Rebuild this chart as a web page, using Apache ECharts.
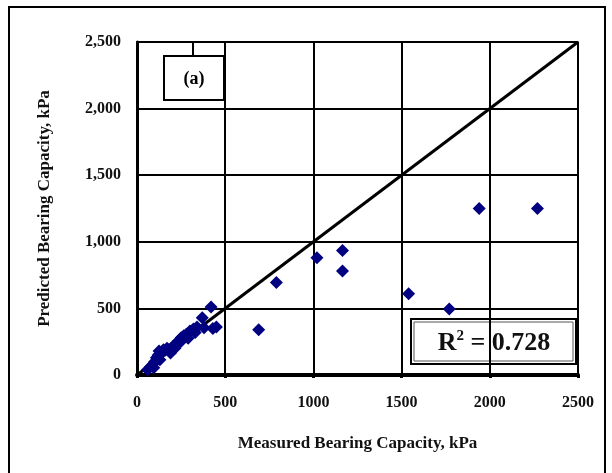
<!DOCTYPE html>
<html>
<head>
<meta charset="utf-8">
<script src="https://cdn.jsdelivr.net/npm/echarts@6/dist/echarts.min.js"></script>
<style>
  html, body { margin: 0; padding: 0; background: #fff; }
  #main { width: 612px; height: 473px; }
</style>
</head>
<body>
<div id="main"></div>
<script>
// measured vs predicted bearing capacity (kPa)
var measured = [60, 75, 90, 100, 110, 120, 125, 135, 145, 160, 170, 180, 195, 205, 220, 235, 250, 265, 280, 300, 320, 340, 370, 380, 420, 430, 450,
                95, 130, 150, 190, 215, 245, 290, 330,
                690, 790, 1020, 1165, 1165, 1540, 1770, 1940, 2270];
var predicted = [40, 60, 80, 100, 130, 150, 180, 160, 175, 185, 200, 190, 200, 215, 235, 255, 280, 295, 305, 330, 345, 360, 430, 355, 510, 350, 360,
                 55, 115, 190, 165, 200, 245, 275, 320,
                 340, 695, 880, 935, 780, 610, 495, 1250, 1250];
var lineX = [0, 2500];
var lineY = [0, 2500];
var xTicks = [0, 500, 1000, 1500, 2000, 2500];
var r2Label = '0.728';
var panelLabel = '(a)';

var points = measured.map(function (m, i) { return [m, predicted[i]]; });
var diag = lineX.map(function (x, i) { return [x, lineY[i]]; });

var serif = '"Liberation Serif", "Times New Roman", serif';

var chart = echarts.init(document.getElementById('main'));
chart.setOption({
    backgroundColor: '#fff',
    animation: false,
    grid: {
        left: 137, right: 34, top: 42, bottom: 98,
        show: true,
        borderColor: '#8a8a8a',
        borderWidth: 2
    },
    xAxis: {
        type: 'value',
        min: xTicks[0],
        max: xTicks[xTicks.length - 1],
        interval: 500,
        name: 'Measured Bearing Capacity, kPa',
        nameLocation: 'middle',
        nameGap: 60,
        nameTextStyle: { fontFamily: serif, fontWeight: 'bold', fontSize: 17, color: '#111' },
        axisLine: { show: true, lineStyle: { color: '#000', width: 4 } },
        axisTick: { show: true, length: 3, lineStyle: { color: '#000', width: 3 } },
        axisLabel: {
            fontFamily: serif, fontWeight: 'bold', fontSize: 16, color: '#111', margin: 20,
            formatter: function (v) { return String(v); }
        },
        splitLine: { show: true, lineStyle: { color: '#000', width: 2 } }
    },
    yAxis: {
        type: 'value',
        min: 0,
        max: 2500,
        interval: 500,
        name: 'Predicted Bearing Capacity, kPa',
        nameLocation: 'middle',
        nameGap: 84,
        nameTextStyle: { fontFamily: serif, fontWeight: 'bold', fontSize: 17, color: '#111' },
        axisLine: { show: true, lineStyle: { color: '#000', width: 3 } },
        axisTick: { show: false },
        axisLabel: {
            fontFamily: serif, fontWeight: 'bold', fontSize: 16, color: '#111', margin: 16,
            formatter: function (v) { return v.toLocaleString('en-US'); }
        },
        splitLine: { show: true, lineStyle: { color: '#000', width: 2 } }
    },
    series: [
        {
            type: 'line',
            data: diag,
            symbol: 'none',
            lineStyle: { color: '#000', width: 3 },
            z: 3
        },
        {
            type: 'scatter',
            data: points,
            symbol: 'diamond',
            symbolSize: 13,
            itemStyle: { color: '#000080', opacity: 1 },
            z: 4
        }
    ],
    graphic: [
        {
            type: 'rect',
            shape: { x: 9, y: 7, width: 596, height: 480 },
            style: { fill: 'none', stroke: '#000', lineWidth: 2 },
            z: 1
        },
        {
            type: 'line',
            shape: { x1: 193, y1: 42, x2: 193, y2: 55 },
            style: { stroke: '#000', lineWidth: 2 },
            z: 10
        },
        {
            type: 'group',
            left: 163, top: 55, z: 10,
            children: [
                { type: 'rect', shape: { x: 0, y: 0, width: 60, height: 44 }, style: { fill: '#fff', stroke: '#000', lineWidth: 2 } },
                { type: 'text', x: 30, y: 23, style: { text: panelLabel, fontFamily: serif, fontWeight: 'bold', fontSize: 18, fill: '#000', align: 'center', verticalAlign: 'middle' } }
            ]
        },
        {
            type: 'group',
            left: 410, top: 318, z: 10,
            children: [
                { type: 'rect', shape: { x: 0, y: 0, width: 165, height: 45 }, style: { fill: '#fff', stroke: '#000', lineWidth: 2 } },
                { type: 'rect', shape: { x: 3, y: 3, width: 159, height: 39 }, style: { fill: 'none', stroke: '#555', lineWidth: 1 } },
                {
                    type: 'text', x: 83, y: 24,
                    style: {
                        text: '{b|R}{s|2}{b| = ' + r2Label + '}',
                        align: 'center', verticalAlign: 'middle',
                        rich: {
                            b: { fontFamily: serif, fontWeight: 'bold', fontSize: 26, fill: '#111' },
                            s: { fontFamily: serif, fontWeight: 'bold', fontSize: 15, fill: '#111', verticalAlign: 'top', padding: [0, 0, 13, 0] }
                        }
                    }
                }
            ]
        }
    ]
});
</script>
</body>
</html>
